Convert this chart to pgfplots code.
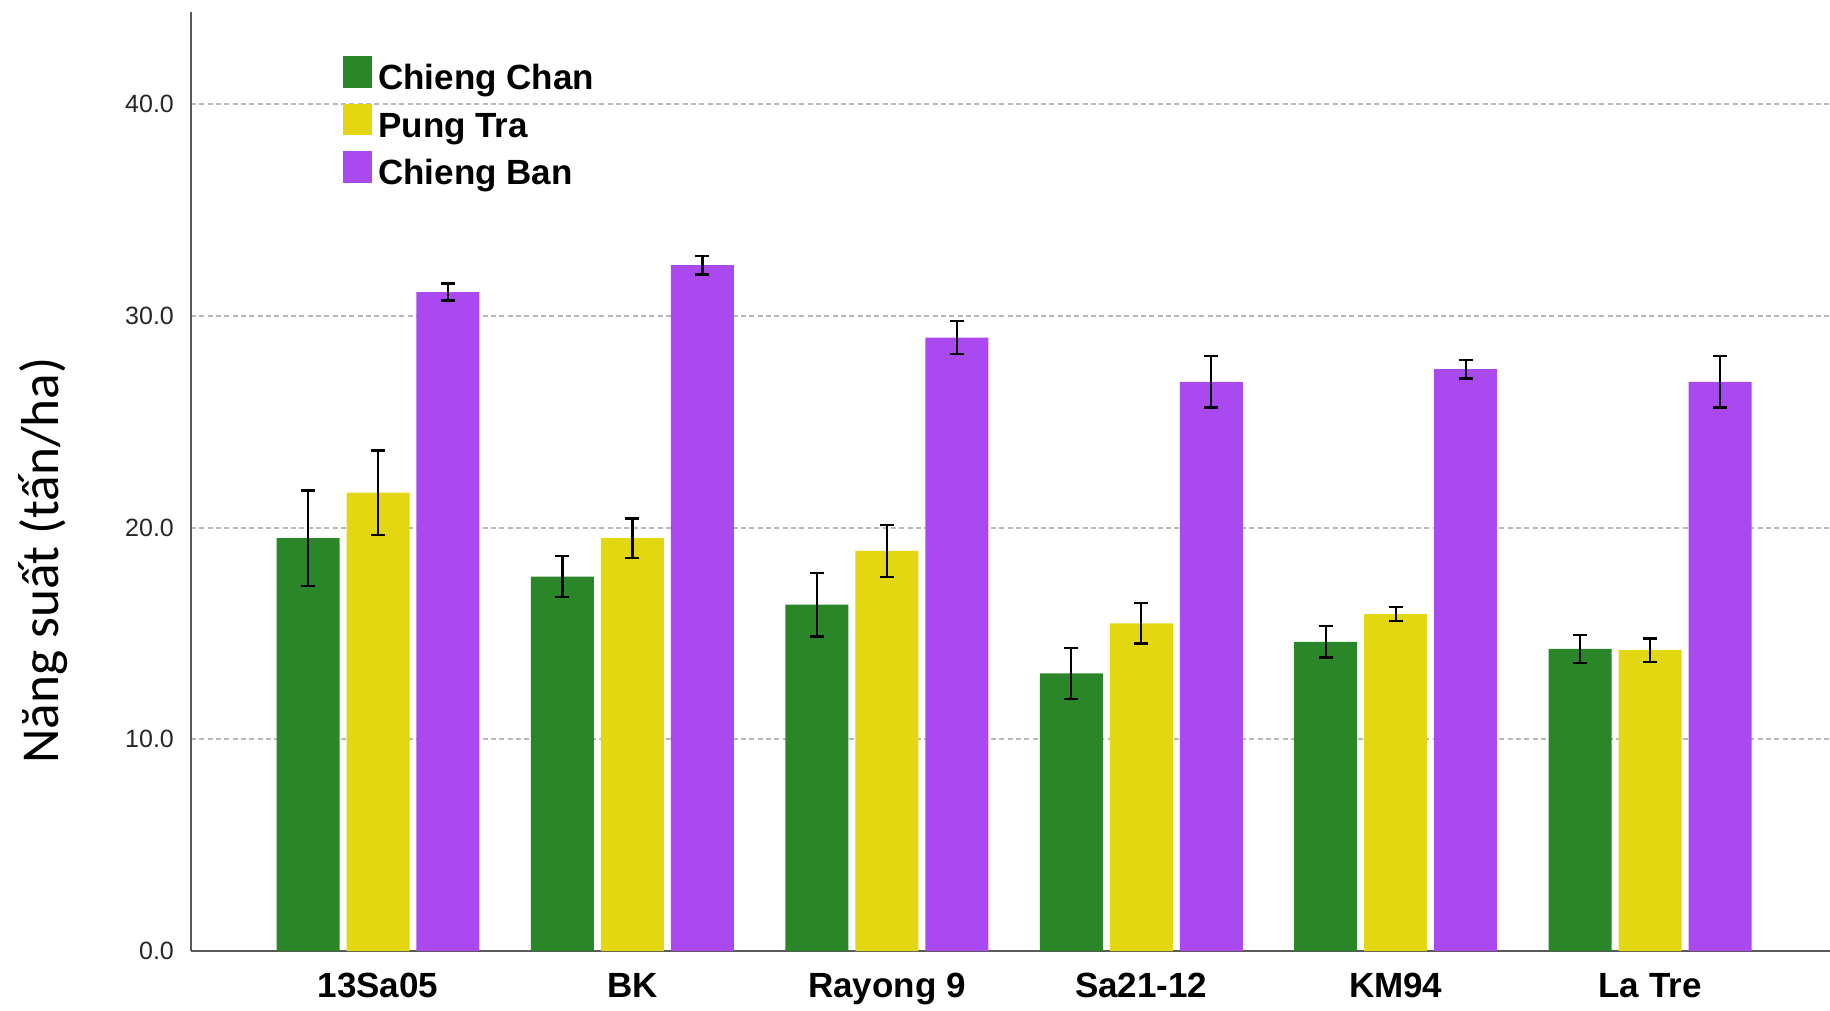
\documentclass[border=0pt]{standalone}
\usepackage{pgfplots}
\pgfplotsset{compat=1.18}
\usepackage{pgfplotstable}
\usepackage{fontspec}
\setmainfont{Liberation Sans}
\newfontfamily\labelfont{Carlito}

\definecolor{ccgreen}{RGB}{43,134,41}
\definecolor{ptyellow}{RGB}{226,215,16}
\definecolor{cbpurple}{RGB}{171,73,240}

% mean yield and error half-width per variety (0 = 13Sa05 ... 5 = La Tre)
\pgfplotstableread{
x y e
0 19.50 2.26
1 17.69 0.97
2 16.36 1.50
3 13.11 1.21
4 14.60 0.74
5 14.27 0.66
}\chiengchan
\pgfplotstableread{
x y e
0 21.65 2.00
1 19.50 0.93
2 18.90 1.24
3 15.48 0.96
4 15.92 0.33
5 14.21 0.55
}\pungtra
\pgfplotstableread{
x y e
0 31.13 0.40
1 32.40 0.44
2 28.98 0.78
3 26.89 1.21
4 27.49 0.44
5 26.89 1.21
}\chiengban

\pgfplotsset{
  errstyle/.style={
    error bars/.cd, y dir=both, y explicit,
    error mark=|,
    error bar style={draw=black, line width=0.7pt},
    error mark options={draw=black, line width=0.7pt, mark size=2.1pt},
  },
}

\begin{document}
\begin{tikzpicture}
\useasboundingbox (0,0) rectangle (549pt,303pt);
\begin{axis}[
  at={(57.3pt,17.7pt)}, anchor=south west,
  scale only axis, width=491.7pt, height=281.7pt,
  xmin=-0.735, xmax=5.707, ymin=0, ymax=44.36,
  axis x line*=bottom, axis y line*=left,
  axis line style={draw=black!65, line width=0.6pt, -},
  major tick length=0pt,
  ytick={0,10,20,30,40},
  ymajorgrids,
  grid style={dash pattern=on 1.5pt off 1pt, draw=black!28, line width=0.55pt},
  xtick={0,1,2,3,4,5},
  xticklabels={13Sa05,BK,Rayong 9,Sa21-12,KM94,La Tre},
  xticklabel style={font=\bfseries\fontsize{10.5}{12}\selectfont, yshift=-3.2pt},
  yticklabel style={font=\fontsize{7.5}{9}\selectfont, xshift=-1.6pt, text=black!85},
  /pgf/number format/fixed,
  /pgf/number format/fixed zerofill,
  /pgf/number format/precision=1,
  /pgf/number format/assume math mode=true,
  ylabel={Năng suất (tấn/ha)},
  ylabel style={font=\labelfont\fontsize{16}{19}\selectfont, at={(axis description cs:-0.0903,0.416)}, anchor=center},
  legend image code/.code={\fill[#1, draw=none] (0pt,-2.2pt) rectangle (8.7pt,7.3pt);},
  legend style={
    draw=none, fill=none, inner sep=0pt,
    at={(axis description cs:0.0921,0.954)}, anchor=north west,
    font=\bfseries\fontsize{10.5}{12}\selectfont,
    row sep=0pt,
    nodes={inner sep=2pt, text height=7.8pt, text depth=2.2pt},
  },
  legend cell align=left,
  bar width=18.9pt,
]
% bars sit side by side: each series is offset from the category centre
\addplot[ybar, bar shift=0pt, fill=ccgreen, draw=none, errstyle]
  table[x expr=\thisrow{x}-0.275, y=y, y error=e]{\chiengchan};
\addlegendentry{Chieng Chan}
\addplot[ybar, bar shift=0pt, fill=ptyellow, draw=none, errstyle]
  table[x=x, y=y, y error=e]{\pungtra};
\addlegendentry{Pung Tra}
\addplot[ybar, bar shift=0pt, fill=cbpurple, draw=none, errstyle]
  table[x expr=\thisrow{x}+0.275, y=y, y error=e]{\chiengban};
\addlegendentry{Chieng Ban}
\end{axis}
\end{tikzpicture}
\end{document}
